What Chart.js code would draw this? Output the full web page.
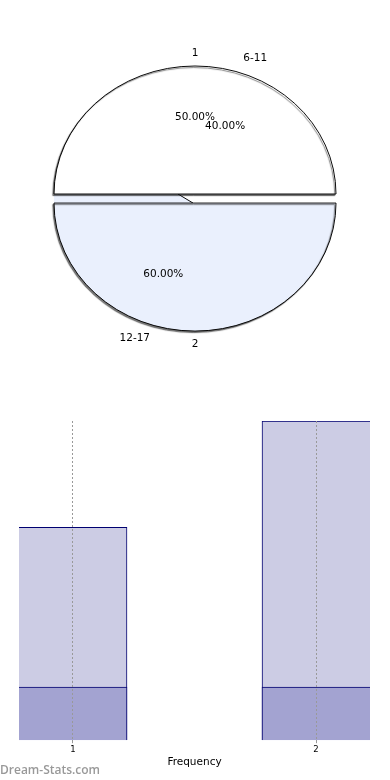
<!DOCTYPE html>
<html>
<head>
<meta charset="utf-8">
<script src="https://cdn.jsdelivr.net/npm/chart.js@4.4.1/dist/chart.umd.min.js"></script>
<style>
  html, body { margin: 0; padding: 0; background: #fff; }
  body { width: 390px; height: 780px; position: relative; overflow: hidden; }
  #pieWrap { position: absolute; left: 0; top: 0; width: 390px; height: 390px; }
  #barWrap { position: absolute; left: 0; top: 390px; width: 390px; height: 390px; }
  #wm { position: absolute; left: 0; top: 761px; font-family: "Open Sans", sans-serif; font-size: 12px; font-weight: 600; color: #999; }
</style>
</head>
<body>
<div id="pieWrap"><canvas id="pie" width="390" height="390"></canvas></div>
<div id="barWrap"><canvas id="bar" width="390" height="390"></canvas></div>
<div id="wm">Dream-Stats.com</div>
<script>
// ---- data ----
const pieLabelsA = ['1', '2'];
const pieValuesA = [50, 50];
const pieLabelsB = ['6-11', '12-17'];
const pieValuesB = [40, 60];
const barCategories = [1, 2];
const barTotal = [4, 6];
const barBase = [1, 1];
const xAxisTitle = 'Frequency';

const SY = 128 / 141;          // vertical squash of the tilted pie
const DROP = 10;               // lowered slice, circle-space px
const FONT = '"DejaVu Sans", sans-serif';

const tiltPlugin = {
  id: 'tilt',
  beforeDatasetsDraw(chart) {
    const ctx = chart.ctx;
    const arc = chart.getDatasetMeta(0).data[0];
    const cx = arc.x, cy = arc.y;
    ctx.save();
    ctx.translate(cx, cy); ctx.scale(1, SY); ctx.translate(-cx, -cy);
  },
  beforeDatasetDraw(chart, args) {
    if (args.index !== 0) return;
    const ctx = chart.ctx;
    const arcs = chart.getDatasetMeta(0).data;
    const cx = arcs[0].x, cy = arcs[0].y, r = arcs[0].outerRadius;
    // side wall of the lowered slice (left part)
    ctx.save();
    ctx.beginPath();
    ctx.moveTo(cx - r, cy);
    ctx.lineTo(cx - 17, cy);
    ctx.lineTo(cx - 2, cy + DROP);
    ctx.lineTo(cx - r, cy + DROP);
    ctx.closePath();
    ctx.fillStyle = '#eaf0fd';
    ctx.fill();
    ctx.beginPath();
    ctx.moveTo(cx - 17, cy);
    ctx.lineTo(cx - 2, cy + DROP);
    ctx.lineWidth = 1;
    ctx.strokeStyle = '#000';
    ctx.stroke();
    ctx.restore();
    arcs.forEach((arc, i) => {
      ctx.save();
      ctx.shadowColor = 'rgba(30,30,30,0.6)';
      ctx.shadowBlur = 1;
      ctx.shadowOffsetX = -1.2;
      ctx.shadowOffsetY = 1.5;
      if (i === 1) ctx.translate(0, DROP);
      arc.draw(ctx);
      ctx.restore();
    });
    return false;
  },
  afterDatasetsDraw(chart) {
    chart.ctx.restore();
  }
};

const pieLabelPlugin = {
  id: 'pieLabels',
  afterDraw(chart) {
    const ctx = chart.ctx;
    const a0 = chart.getDatasetMeta(0).data[0];
    const cx = a0.x, cy = a0.y, R = a0.outerRadius;
    ctx.save();
    ctx.font = '10.5px ' + FONT;
    ctx.fillStyle = '#000';
    ctx.textAlign = 'center';
    ctx.textBaseline = 'middle';
    const put = (arc, txt, k) => {
      const mid = (arc.startAngle + arc.endAngle) / 2;
      const s = Math.sin(mid);
      const x = cx + Math.cos(mid) * R * k;
      const y = cy + (s * R * k + (s > 0.05 ? DROP : 0)) * SY;
      ctx.fillText(txt, x, y);
    };
    const pct = (v, arr) => (v / arr.reduce((p, q) => p + q, 0) * 100).toFixed(2) + '%';
    const mA = chart.getDatasetMeta(0).data;
    const mB = chart.getDatasetMeta(1).data;
    put(mA[0], pieLabelsA[0], 1.1);
    put(mA[1], pieLabelsA[1], 1.1);
    put(mA[0], pct(pieValuesA[0], pieValuesA), 0.6);
    put(mB[0], pieLabelsB[0], 1.14);
    put(mB[1], pieLabelsB[1], 1.14);
    put(mB[0], pct(pieValuesB[0], pieValuesB), 0.57);
    put(mB[1], pct(pieValuesB[1], pieValuesB), 0.6);
    ctx.restore();
  }
};

new Chart(document.getElementById('pie'), {
  type: 'pie',
  data: {
    labels: pieLabelsA,
    datasets: [
      {
        data: pieValuesA,
        backgroundColor: ['#ffffff', '#eaf0fd'],
        borderColor: '#000',
        borderWidth: 1,
        hoverOffset: 0,
        rotation: -90,
        radius: 141,
        weight: 1
      },
      {
        data: pieValuesB,
        backgroundColor: 'rgba(0,0,0,0)',
        borderColor: 'rgba(0,0,0,0)',
        borderWidth: 0,
        rotation: -50,
        radius: 141,
        weight: 0
      }
    ]
  },
  options: {
    responsive: false,
    animation: false,
    events: [],
    layout: { padding: { bottom: 2 } },
    plugins: { legend: { display: false }, tooltip: { enabled: false } }
  },
  plugins: [tiltPlugin, pieLabelPlugin]
});

const pad = 0.2222;
const bw = (c) => c.dataIndex === 0 ? { top: 1, right: 1, left: 0, bottom: 0 } : { top: 1, left: 1, right: 0, bottom: 0 };
new Chart(document.getElementById('bar'), {
  type: 'bar',
  data: {
    datasets: [
      {
        data: barCategories.map((c, i) => ({ x: c, y: barBase[i] })),
        backgroundColor: '#a3a3d1',
        borderColor: '#000070',
        borderWidth: bw,
        borderSkipped: false,
        barThickness: 108,
        grouped: false
      },
      {
        data: barCategories.map((c, i) => ({ x: c, y: barTotal[i] })),
        backgroundColor: '#ccccE4',
        borderColor: '#000070',
        borderWidth: bw,
        borderSkipped: false,
        barThickness: 108,
        grouped: false
      }
    ]
  },
  options: {
    responsive: false,
    animation: false,
    events: [],
    layout: { padding: { top: 31, left: 19, right: 20, bottom: 11 } },
    plugins: { legend: { display: false }, tooltip: { enabled: false } },
    scales: {
      x: {
        type: 'linear',
        offset: false,
        min: barCategories[0] - pad,
        max: barCategories[barCategories.length - 1] + pad,
        z: 1,
        afterBuildTicks: (s) => { s.ticks = barCategories.map(v => ({ value: v })); },
        grid: { offset: false, z: 1, color: '#999', tickLength: 3, tickColor: '#999' },
        border: { display: false, dash: [2, 2] },
        ticks: { font: { family: FONT, size: 8.5 }, color: '#000', padding: 1, callback: (v) => String(v) },
        title: { display: true, text: xAxisTitle, font: { family: FONT, size: 10.5 }, color: '#000', padding: { top: 1, bottom: 0 } }
      },
      y: {
        display: false,
        min: 0,
        max: 6
      }
    }
  }
});
</script>
</body>
</html>
